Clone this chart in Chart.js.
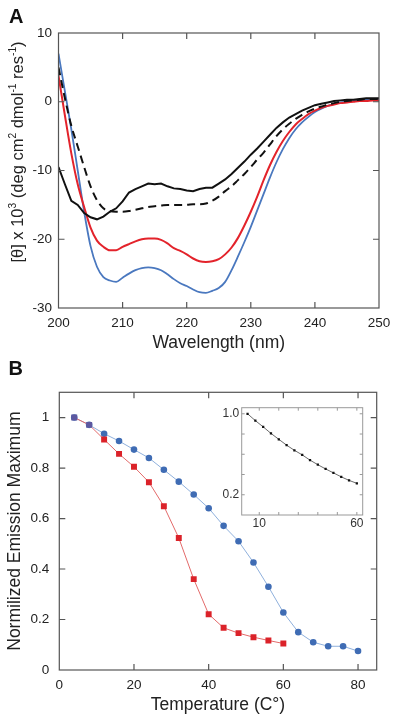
<!DOCTYPE html>
<html>
<head>
<meta charset="utf-8">
<script src="https://cdn.jsdelivr.net/npm/chart.js@4.4.1/dist/chart.umd.min.js"></script>
<style>
  body { margin: 0; background: #fff; }
  #wrap { position: relative; width: 400px; height: 721px; overflow: hidden; }
  canvas { position: absolute; }
  .panel { position: absolute; font: bold 20px "Liberation Sans", Arial, sans-serif; line-height: 20px; color: #111; }
</style>
</head>
<body>
<div id="wrap">
  <canvas id="cd" width="400" height="360" style="left:0;top:0"></canvas>
  <canvas id="melt" width="400" height="361" style="left:0;top:360px"></canvas>
  <canvas id="inset" width="155" height="135" style="left:215px;top:398px"></canvas>
  <div class="panel" style="left:9px;top:6px">A</div>
  <div class="panel" style="left:8.5px;top:357.5px">B</div>
</div>
<script>
// ---- panel A: CD spectra ----
var wavelength = [200,201,202,203,204,205,206,207,208,209,210,211,212,213,214,215,216,217,218,219,220,
                  221,222,223,224,225,226,227,228,229,230,231,232,233,234,235,236,237,238,239,240,
                  241,242,243,244,245,246,247,248,249,250];
var cdBlue   = [7.0,1.5,-4.0,-10.0,-16.0,-21.0,-24.0,-25.5,-26.0,-26.2,-25.6,-25.0,-24.5,-24.2,-24.1,-24.2,-24.5,-25.1,-25.8,-26.4,-26.8,
                -27.3,-27.7,-27.8,-27.5,-27.1,-26.2,-24.5,-22.5,-20.4,-18.2,-15.8,-13.4,-11.0,-8.8,-6.9,-5.3,-4.0,-3.0,-2.2,-1.5,
                -1.0,-0.6,-0.3,-0.1,0.0,0.1,0.2,0.3,0.3,0.4];
var cdRed    = [3.8,-2.0,-7.5,-12.0,-15.3,-18.3,-20.2,-21.1,-21.6,-21.6,-21.1,-20.7,-20.3,-20.0,-19.9,-19.9,-20.1,-20.6,-21.3,-21.7,-22.2,
                -22.8,-23.2,-23.3,-23.2,-22.9,-22.2,-21.2,-19.8,-18.0,-16.0,-13.8,-11.4,-9.2,-7.3,-5.7,-4.4,-3.3,-2.5,-1.8,-1.3,
                -0.9,-0.6,-0.4,-0.2,-0.1,0.0,0.1,0.1,0.2,0.2];
var cdBlack  = [-9.5,-12.0,-14.4,-15.0,-16.2,-16.8,-17.1,-16.7,-16.0,-15.5,-14.5,-13.2,-12.7,-12.3,-11.9,-12.0,-11.9,-12.3,-12.6,-12.7,-12.9,
                -13.0,-12.7,-12.5,-12.5,-11.9,-11.3,-10.5,-9.6,-8.7,-7.7,-6.8,-5.8,-4.8,-3.8,-3.0,-2.3,-1.8,-1.3,-0.9,-0.5,
                -0.3,-0.1,0.1,0.2,0.3,0.3,0.4,0.5,0.5,0.5];
var cdDashed = [5.0,0.5,-3.5,-6.5,-9.5,-12.3,-14.3,-15.5,-15.9,-16.0,-16.0,-15.9,-15.7,-15.5,-15.3,-15.2,-15.1,-15.0,-15.0,-15.0,-15.0,
                -14.9,-14.9,-14.8,-14.4,-13.8,-13.0,-12.3,-11.4,-10.5,-9.5,-8.4,-7.4,-6.2,-5.0,-4.0,-3.2,-2.5,-1.9,-1.4,-1.0,
                -0.7,-0.4,-0.2,0.0,0.1,0.2,0.3,0.4,0.4,0.4];
var cdXTicks = [200,210,220,230,240,250];
var cdYTicks = [-30,-20,-10,0,10];

// ---- panel B: thermal melt ----
var tempBlue = [4,8,12,16,20,24,28,32,36,40,44,48,52,56,60,64,68,72,76,80];
var emBlue   = [1.0,0.971,0.936,0.907,0.873,0.840,0.793,0.746,0.695,0.641,0.571,0.510,0.426,0.330,0.228,0.150,0.110,0.094,0.094,0.075];
var tempRed  = [4,8,12,16,20,24,28,32,36,40,44,48,52,56,60];
var emRed    = [1.0,0.971,0.913,0.856,0.805,0.744,0.649,0.523,0.360,0.221,0.167,0.146,0.130,0.117,0.105];
var emXTicks = [0,20,40,60,80];
var emYTicks = [0,0.2,0.4,0.6,0.8,1];
var emYLabels = ['0','0.2','0.4','0.6','0.8','1'];

// ---- inset ----
var insetTemp = [4,8,12,16,20,24,28,32,36,40,44,48,52,56,60];
var insetVal  = [1.0,0.932,0.871,0.806,0.748,0.690,0.639,0.594,0.542,0.497,0.455,0.416,0.377,0.342,0.313];
var insetXTicks = [10,20,30,40,50,60];
var insetXLabels = ['10','','','','','60'];
var insetYTicks = [0.2,0.4,0.6,0.8,1.0];
var insetYLabels = ['0.2','','','','1.0'];

var FONT = '"Liberation Sans", Arial, sans-serif';
var TXT = '#222';

function pts(xs, ys) {
    return xs.map(function (x, i) { return { x: x, y: ys[i] }; });
}

// box around the plot with inward ticks on all four sides
var boxTicks = {
    id: 'boxTicks',
    beforeDraw: function (chart, args, o) {
        if (!o.fill) return;
        var a = chart.chartArea, ctx = chart.ctx;
        ctx.save();
        ctx.fillStyle = o.fill;
        ctx.fillRect(a.left, a.top, a.right - a.left, a.bottom - a.top);
        ctx.restore();
    },
    afterDraw: function (chart, args, o) {
        var ctx = chart.ctx, a = chart.chartArea, x = chart.scales.x, y = chart.scales.y;
        ctx.save();
        ctx.strokeStyle = o.color;
        ctx.lineWidth = o.width;
        ctx.beginPath();
        x.ticks.forEach(function (t) {
            var px = x.getPixelForValue(t.value);
            if (px <= a.left + 1 || px >= a.right - 1) return;
            ctx.moveTo(px, a.bottom); ctx.lineTo(px, a.bottom - o.len);
            ctx.moveTo(px, a.top); ctx.lineTo(px, a.top + o.len);
        });
        y.ticks.forEach(function (t) {
            var py = y.getPixelForValue(t.value);
            if (py <= a.top + 1 || py >= a.bottom - 1) return;
            ctx.moveTo(a.left, py); ctx.lineTo(a.left + o.len, py);
            ctx.moveTo(a.right, py); ctx.lineTo(a.right - o.len, py);
        });
        ctx.stroke();
        ctx.strokeRect(a.left, a.top, a.right - a.left, a.bottom - a.top);
        ctx.restore();
    }
};

// rotated y title with superscripts (panel A)
var richTitle = {
    id: 'richTitle',
    afterDraw: function (chart, args, o) {
        if (!o.parts) return;
        var ctx = chart.ctx, small = o.size * 0.62, total = 0;
        ctx.save();
        ctx.translate(o.x, o.y);
        ctx.rotate(-Math.PI / 2);
        o.parts.forEach(function (p) {
            ctx.font = (p[1] ? small : o.size) + 'px ' + FONT;
            total += ctx.measureText(p[0]).width;
        });
        var cx = -total / 2;
        ctx.fillStyle = TXT;
        ctx.textBaseline = 'alphabetic';
        o.parts.forEach(function (p) {
            ctx.font = (p[1] ? small : o.size) + 'px ' + FONT;
            ctx.fillText(p[0], cx, p[1] ? o.size * 0.36 - o.size * 0.42 : o.size * 0.36);
            cx += ctx.measureText(p[0]).width;
        });
        ctx.restore();
    }
};

function fixTicks(list) {
    return function (s) { s.ticks = list.map(function (v) { return { value: v }; }); };
}

// ---------- Panel A ----------
new Chart(document.getElementById('cd'), {
    type: 'line',
    data: {
        datasets: [
            { data: pts(wavelength, cdBlack), borderColor: '#111', borderWidth: 2, pointRadius: 0, tension: 0 },
            { data: pts(wavelength, cdDashed), borderColor: '#111', borderWidth: 2, borderDash: [8, 5], pointRadius: 0, cubicInterpolationMode: 'monotone' },
            { data: pts(wavelength, cdRed), borderColor: '#e3232b', borderWidth: 2, pointRadius: 0, cubicInterpolationMode: 'monotone' },
            { data: pts(wavelength, cdBlue), borderColor: '#4a78bf', borderWidth: 1.8, pointRadius: 0, cubicInterpolationMode: 'monotone' }
        ]
    },
    options: {
        responsive: false, animation: false, events: [],
        layout: { padding: { left: 0, top: 33, right: 21, bottom: 0 } },
        plugins: {
            legend: { display: false }, tooltip: { enabled: false },
            boxTicks: { color: '#555', width: 1.2, len: 6 },
            richTitle: {
                x: 17, y: 152, size: 16.5,
                parts: [['[\u03b8] x 10', 0], ['3', 1], [' (deg cm', 0], ['2', 1], [' dmol', 0], ['-1', 1], [' res', 0], ['-1', 1], [')', 0]]
            }
        },
        scales: {
            x: {
                type: 'linear', min: 200, max: 250,
                afterBuildTicks: fixTicks(cdXTicks),
                afterFit: function (s) { s.height = 52; },
                grid: { display: false, drawTicks: false }, border: { display: false },
                ticks: { autoSkip: false, maxRotation: 0, padding: 7, color: TXT, font: { family: FONT, size: 13.5 } },
                title: { display: true, text: 'Wavelength (nm)', color: TXT, padding: { top: 0, bottom: 6.5 }, font: { family: FONT, size: 17.5 } }
            },
            y: {
                type: 'linear', min: -30, max: 10,
                afterBuildTicks: fixTicks(cdYTicks),
                afterFit: function (s) { s.width = 58.5; },
                grid: { display: false, drawTicks: false }, border: { display: false },
                ticks: { padding: 6.5, color: TXT, font: { family: FONT, size: 13.5 }, callback: function (v) { return String(v); } }
            }
        }
    },
    plugins: [boxTicks, richTitle]
});

// ---------- Panel B ----------
new Chart(document.getElementById('melt'), {
    type: 'line',
    data: {
        datasets: [
            {
                data: pts(tempRed, emRed), borderColor: '#e36a6a', borderWidth: 1,
                pointStyle: 'rect', pointRadius: 4.2, pointBorderWidth: 0,
                pointBackgroundColor: function (c) { return c.dataIndex < 2 ? '#5d58a0' : '#db2229'; }
            },
            {
                data: pts(tempBlue, emBlue), borderColor: '#8fb0dc', borderWidth: 1,
                pointStyle: 'circle', pointRadius: 3.3, pointBorderWidth: 0, pointBackgroundColor: '#3f6cb4'
            }
        ]
    },
    options: {
        responsive: false, animation: false, events: [],
        layout: { padding: { left: 0, top: 32.3, right: 23.3, bottom: 0 } },
        plugins: {
            legend: { display: false }, tooltip: { enabled: false },
            boxTicks: { color: '#555', width: 1.2, len: 6 }
        },
        scales: {
            x: {
                type: 'linear', min: 0, max: 85,
                afterBuildTicks: fixTicks(emXTicks),
                afterFit: function (s) { s.height = 51; },
                grid: { display: false, drawTicks: false }, border: { display: false },
                ticks: { autoSkip: false, maxRotation: 0, padding: 7, color: TXT, font: { family: FONT, size: 13.5 } },
                title: { display: true, text: 'Temperature (C\u00b0)', color: TXT, padding: { top: 0, bottom: 5.5 }, font: { family: FONT, size: 17.5 } }
            },
            y: {
                type: 'linear', min: 0, max: 1.1,
                afterBuildTicks: fixTicks(emYTicks),
                afterFit: function (s) { s.width = 59.3; },
                grid: { display: false, drawTicks: false }, border: { display: false },
                ticks: {
                    padding: 10, color: TXT, font: { family: FONT, size: 13.5 },
                    callback: function (v, i) { return emYLabels[i]; }
                },
                title: { display: true, text: 'Normilized Emission Maximum', color: TXT, padding: { top: 5, bottom: 0 }, font: { family: FONT, size: 17.5 } }
            }
        }
    },
    plugins: [boxTicks]
});

// ---------- Inset ----------
new Chart(document.getElementById('inset'), {
    type: 'line',
    data: {
        datasets: [{
            data: pts(insetTemp, insetVal), borderColor: '#444', borderWidth: 0.8,
            pointStyle: 'rect', pointRadius: 1.6, pointBorderWidth: 0, pointBackgroundColor: '#111'
        }]
    },
    options: {
        responsive: false, animation: false, events: [],
        layout: { padding: { left: 0, top: 8, right: 7.3, bottom: 0 } },
        plugins: {
            legend: { display: false }, tooltip: { enabled: false },
            boxTicks: { color: '#999', width: 1, len: 3, fill: '#fff' }
        },
        scales: {
            x: {
                type: 'linear', min: 1, max: 63,
                afterBuildTicks: fixTicks(insetXTicks),
                afterFit: function (s) { s.height = 18; },
                grid: { display: false, drawTicks: false }, border: { display: false },
                ticks: {
                    autoSkip: false, maxRotation: 0, padding: 1.5, color: '#333', font: { family: FONT, size: 12 },
                    callback: function (v, i) { return insetXLabels[i]; }
                }
            },
            y: {
                type: 'linear', min: 0, max: 1.06,
                afterBuildTicks: fixTicks(insetYTicks),
                afterFit: function (s) { s.width = 26.7; },
                grid: { display: false, drawTicks: false }, border: { display: false },
                ticks: {
                    padding: 2.5, color: '#333', font: { family: FONT, size: 12 },
                    callback: function (v, i) { return insetYLabels[i]; }
                }
            }
        }
    },
    plugins: [boxTicks]
});
</script>
</body>
</html>
